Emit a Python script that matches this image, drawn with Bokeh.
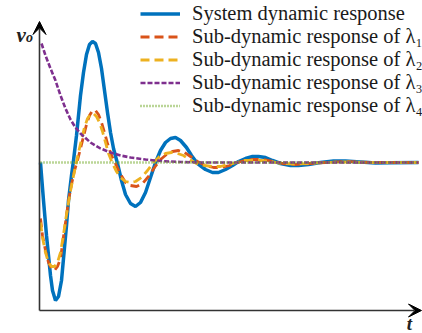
from bokeh.plotting import figure
from bokeh.models import Range1d, Legend, LegendItem, Arrow, VeeHead
from bokeh.core.properties import value
from bokeh.embed import file_html
from bokeh.resources import INLINE

# ---- data (t: time, v: output, steady state = 1) ----
t_sys = [0.1, 0.2, 0.4, 0.7, 0.9, 1.1, 1.3, 1.6, 1.9, 2.2, 2.4, 2.7, 2.9, 3.2, 3.4,
         3.7, 3.9, 4.1, 4.4, 4.7, 5.0, 5.3, 5.6, 5.9, 6.2, 6.5, 6.8, 7.1, 7.4, 7.8,
         8.2, 8.6, 9.1, 9.6, 10.1, 10.6, 11.1, 11.6, 12.1, 12.6, 13.1, 13.6, 14.1,
         14.7, 15.2, 15.8, 16.6, 17.3, 17.9, 18.6, 19.3, 19.9, 20.6, 21.3, 21.9,
         22.6, 23.3, 24.1, 25.1, 25.9, 26.9, 28.1, 29.4, 30.6, 32.1, 33.6, 35.1, 37.9]
v_sys = [1.00, 0.87, 0.62, 0.27, 0.07, -0.13, -0.28, -0.38, -0.34, -0.18, 0.04, 0.37,
         0.62, 0.87, 1.02, 1.27, 1.47, 1.67, 1.90, 2.08, 2.18, 2.21, 2.19, 2.10, 1.94,
         1.72, 1.50, 1.30, 1.14, 0.99, 0.82, 0.68, 0.59, 0.56, 0.60, 0.70, 0.85, 1.00,
         1.12, 1.20, 1.24, 1.25, 1.22, 1.15, 1.07, 0.99, 0.93, 0.90, 0.90, 0.93, 0.97,
         1.01, 1.04, 1.06, 1.06, 1.05, 1.02, 0.99, 0.97, 0.97, 0.98, 1.00, 1.015,
         1.015, 1.005, 0.995, 0.998, 1.00]

t_l1 = [0.1, 0.3, 0.6, 0.9, 1.2, 1.5, 1.8, 2.1, 2.4, 2.7, 2.9, 3.2, 3.5, 3.8, 4.1,
        4.4, 4.7, 5.0, 5.3, 5.6, 5.9, 6.2, 6.5, 6.8, 7.2, 7.6, 8.0, 8.6, 9.1, 9.7,
        10.3, 10.9, 11.5, 12.1, 12.7, 13.3, 13.9, 14.5, 15.1, 15.8, 16.6, 17.4,
        18.2, 19.0, 19.8, 20.6, 21.4, 22.3, 23.3, 24.3, 25.6, 27.1, 28.6, 30.6,
        33.1, 37.9]
v_l1 = [0.44, 0.27, 0.12, 0.00, -0.06, -0.08, -0.04, 0.04, 0.26, 0.47, 0.62, 0.78,
        0.92, 1.02, 1.14, 1.26, 1.38, 1.47, 1.52, 1.52, 1.48, 1.40, 1.30, 1.19, 1.07,
        0.99, 0.90, 0.80, 0.77, 0.76, 0.79, 0.86, 0.95, 1.03, 1.08, 1.11, 1.12, 1.10,
        1.06, 1.01, 0.97, 0.95, 0.95, 0.97, 1.00, 1.02, 1.03, 1.03, 1.01, 0.99, 0.98,
        0.99, 1.00, 1.01, 1.00, 1.00]

t_l2 = [0.1, 0.3, 0.6, 0.9, 1.2, 1.5, 1.8, 2.1, 2.4, 2.7, 3.0, 3.3, 3.6, 3.9, 4.2,
        4.5, 4.8, 5.1, 5.4, 5.7, 6.0, 6.3, 6.6, 6.9, 7.3, 7.7, 8.1, 8.6, 9.1, 9.6,
        10.2, 10.8, 11.4, 12.0, 12.6, 13.2, 13.8, 14.4, 15.0, 15.7, 16.5, 17.3,
        18.1, 18.9, 19.7, 20.5, 21.3, 22.2, 23.2, 24.2, 25.5, 27.0, 28.5, 30.5,
        33.0, 37.9]
v_l2 = [0.40, 0.25, 0.10, 0.00, -0.04, -0.04, 0.00, 0.10, 0.28, 0.48, 0.66, 0.82,
        0.96, 1.10, 1.23, 1.35, 1.44, 1.48, 1.49, 1.46, 1.40, 1.31, 1.20, 1.09, 0.99,
        0.91, 0.85, 0.81, 0.80, 0.81, 0.85, 0.92, 1.00, 1.06, 1.09, 1.10, 1.09, 1.07,
        1.03, 0.99, 0.97, 0.96, 0.96, 0.98, 1.00, 1.02, 1.02, 1.02, 1.01, 0.99, 0.985,
        0.99, 1.00, 1.005, 1.00, 1.00]

t_l3 = [0.2, 0.6, 1.1, 1.6, 2.1, 2.6, 3.1, 3.6, 4.1, 5.1, 6.1, 7.1, 8.1, 9.1, 10.6,
        12.1, 14.1, 16.1, 37.9]
v_l3 = [2.19, 2.07, 1.94, 1.82, 1.67, 1.54, 1.43, 1.35, 1.29, 1.20, 1.14, 1.10, 1.07,
        1.05, 1.03, 1.015, 1.005, 1.00, 1.00]

t_l4 = [0.1, 37.9]
v_l4 = [1.00, 1.00]

labels = ["System dynamic response",
          "Sub-dynamic response of \u03bb\u2081",
          "Sub-dynamic response of \u03bb\u2082",
          "Sub-dynamic response of \u03bb\u2083",
          "Sub-dynamic response of \u03bb\u2084"]

p = figure(width=422, height=333, x_range=Range1d(-3.9, 38.3), y_range=Range1d(-0.71, 2.62),
           output_backend="svg", toolbar_location=None, min_border=0,
           x_axis_location=None, y_axis_location=None)
p.grid.visible = False
p.outline_line_color = None
p.background_fill_color = "white"

serif = value("Liberation Serif")

# axes with arrows
p.add_layout(Arrow(end=VeeHead(size=13, fill_color="black", line_color="black", line_width=1),
                   x_start=0, y_start=-0.48, x_end=38.2, y_end=-0.48,
                   line_color="#333333", line_width=1.6))
p.add_layout(Arrow(end=VeeHead(size=13, fill_color="black", line_color="black", line_width=1),
                   x_start=0, y_start=-0.48, x_end=0, y_end=2.41,
                   line_color="#333333", line_width=1.6))

r0 = p.line(t_sys, v_sys, line_color="#0072BD", line_width=3.5)
r1 = p.line(t_l1, v_l1, line_color="#D95319", line_width=2.8, line_dash="9 5")
r2 = p.line(t_l2, v_l2, line_color="#EDB120", line_width=2.8, line_dash="9 5")
r3 = p.line(t_l3, v_l3, line_color="#7E2F8E", line_width=2.6, line_dash="5 2")
r4 = p.line(t_l4, v_l4, line_color="#77AC30", line_width=2.5, line_dash="1 2")

legend = Legend(items=[LegendItem(label=l, renderers=[r]) for l, r in
                       zip(labels, [r0, r1, r2, r3, r4])],
                location=(140, 216), padding=0, spacing=-2, margin=0,
                glyph_width=40, glyph_height=21, label_height=21, label_standoff=12,
                label_text_font="Liberation Serif", label_text_font_size="20.5px",
                label_text_color="#1a1a1a", border_line_color=None,
                background_fill_color="white", background_fill_alpha=1.0)
p.add_layout(legend)

# axis labels
p.text(x=[-2.3], y=[2.28], text=["v"], text_font=serif, text_font_size="21px",
       text_font_style="bold italic", text_color="#222222", text_baseline="alphabetic")
p.text(x=[-1.35], y=[2.25], text=["o"], text_font=serif, text_font_size="14px",
       text_font_style="bold italic", text_color="#222222", text_baseline="alphabetic")
p.text(x=[37.0], y=[-0.605], text=["t"], text_font=serif, text_font_size="19px",
       text_font_style="bold italic", text_color="#222222", text_baseline="alphabetic",
       text_align="center")

open("out.html", "w").write(file_html(p, INLINE))
